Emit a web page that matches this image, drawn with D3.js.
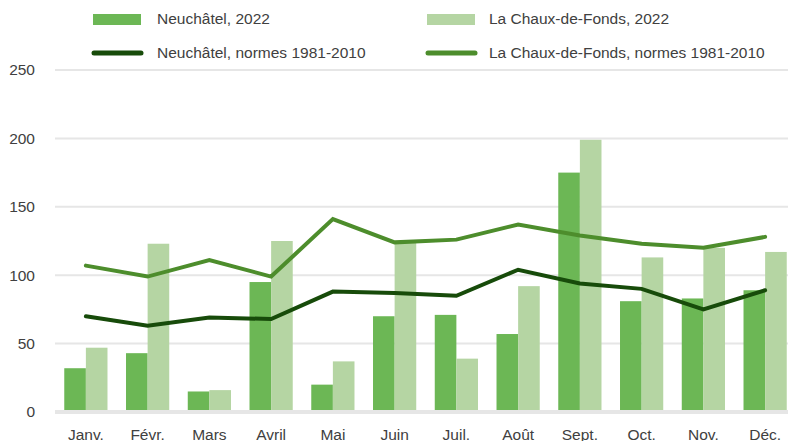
<!DOCTYPE html>
<html>
<head>
<meta charset="utf-8">
<script src="https://cdn.jsdelivr.net/npm/d3@7"></script>
<style>
  html, body { margin: 0; padding: 0; background: #fff; }
  svg { display: block; font-family: "Liberation Sans", Arial, sans-serif; }
  .tick-label { fill: #404040; font-size: 15.5px; }
  .legend-label { fill: #404040; font-size: 15.5px; }
</style>
</head>
<body>
<div class="chart"></div>
<script>
const months = ['Janv.', 'Févr.', 'Mars', 'Avril', 'Mai', 'Juin', 'Juil.', 'Août', 'Sept.', 'Oct.', 'Nov.', 'Déc.'];
const neuchatel2022 = [32, 43, 15, 95, 20, 70, 71, 57, 175, 81, 83, 89];
const chauxDeFonds2022 = [47, 123, 16, 125, 37, 124, 39, 92, 199, 113, 120, 117];
const neuchatelNormes = [70, 63, 69, 68, 88, 87, 85, 104, 94, 90, 75, 89];
const chauxDeFondsNormes = [107, 99, 111, 99, 141, 124, 126, 137, 129, 123, 120, 128];
const yTicks = [0, 50, 100, 150, 200, 250];

(function() {
  'use strict';

  let width = 788,
      height = 441,
      colors = {
        bar1: '#6cb755',
        bar2: '#b5d5a3',
        line1: '#174b0a',
        line2: '#4d8d2c',
        grid: '#e6e6e6'
      },

      svg = d3.select('.chart')
        .append('svg')
        .attr('width', width)
        .attr('height', height),

      x = d3.scaleBand()
        .domain(months)
        .range([55, 796])
        .paddingInner(0.3)
        .paddingOuter(0.15),

      xSub = d3.scaleBand()
        .domain([0, 1])
        .range([0, x.bandwidth()]),

      y = d3.scaleLinear()
        .domain([0, 250])
        .range([412, 70]);

  // gridlines + y labels
  let grid = svg.append('g');
  grid.selectAll('line')
    .data(yTicks)
    .enter()
    .append('line')
      .attr('x1', 55)
      .attr('x2', width)
      .attr('y1', d => y(d))
      .attr('y2', d => y(d))
      .attr('stroke', colors.grid)
      .attr('stroke-width', d => d === 0 ? 4 : 2);

  grid.selectAll('text')
    .data(yTicks)
    .enter()
    .append('text')
      .attr('class', 'tick-label')
      .attr('x', 35)
      .attr('y', d => y(d))
      .attr('dy', '0.35em')
      .attr('text-anchor', 'end')
      .text(d => d);

  // bars
  let series = [
    { values: neuchatel2022, fill: colors.bar1 },
    { values: chauxDeFonds2022, fill: colors.bar2 }
  ];

  series.forEach((s, i) => {
    svg.append('g')
      .selectAll('rect')
      .data(s.values)
      .enter()
      .append('rect')
        .attr('x', (d, j) => x(months[j]) + xSub(i))
        .attr('y', d => y(d))
        .attr('width', xSub.bandwidth())
        .attr('height', d => y(0) - 2 - y(d))
        .attr('fill', s.fill);
  });

  // lines
  let line = d3.line()
    .x((d, j) => x(months[j]) + x.bandwidth() / 2)
    .y(d => y(d));

  [{ values: chauxDeFondsNormes, stroke: colors.line2 },
   { values: neuchatelNormes, stroke: colors.line1 }].forEach(s => {
    svg.append('path')
      .datum(s.values)
      .attr('d', line)
      .attr('fill', 'none')
      .attr('stroke', s.stroke)
      .attr('stroke-width', 4)
      .attr('stroke-linejoin', 'miter')
      .attr('stroke-linecap', 'round');
  });

  // x labels (cut by the bottom edge, as in the original)
  svg.append('g')
    .selectAll('text')
    .data(months)
    .enter()
    .append('text')
      .attr('class', 'tick-label')
      .attr('x', d => x(d) + x.bandwidth() / 2)
      .attr('y', 435)
      .attr('dy', '0.35em')
      .attr('text-anchor', 'middle')
      .text(d => d);

  // legend
  let legendItems = [
    { label: 'Neuchâtel, 2022', type: 'rect', color: colors.bar1, x: 93, y: 19, tx: 64 },
    { label: 'La Chaux-de-Fonds, 2022', type: 'rect', color: colors.bar2, x: 427, y: 19, tx: 62 },
    { label: 'Neuchâtel, normes 1981-2010', type: 'line', color: colors.line1, x: 93, y: 53, tx: 64 },
    { label: 'La Chaux-de-Fonds, normes 1981-2010', type: 'line', color: colors.line2, x: 427, y: 53, tx: 62 }
  ];

  let legend = svg.append('g')
    .selectAll('g')
    .data(legendItems)
    .enter()
    .append('g')
      .attr('transform', d => `translate(${d.x},${d.y})`);

  legend.filter(d => d.type === 'rect')
    .append('rect')
      .attr('x', 0)
      .attr('y', -5)
      .attr('width', 48)
      .attr('height', 11)
      .attr('fill', d => d.color);

  legend.filter(d => d.type === 'line')
    .append('line')
      .attr('x1', 1)
      .attr('x2', 48)
      .attr('stroke', d => d.color)
      .attr('stroke-width', 5)
      .attr('stroke-linecap', 'round');

  legend.append('text')
    .attr('class', 'legend-label')
    .attr('x', d => d.tx)
    .attr('dy', '0.35em')
    .text(d => d.label);
})();
</script>
</body>
</html>
